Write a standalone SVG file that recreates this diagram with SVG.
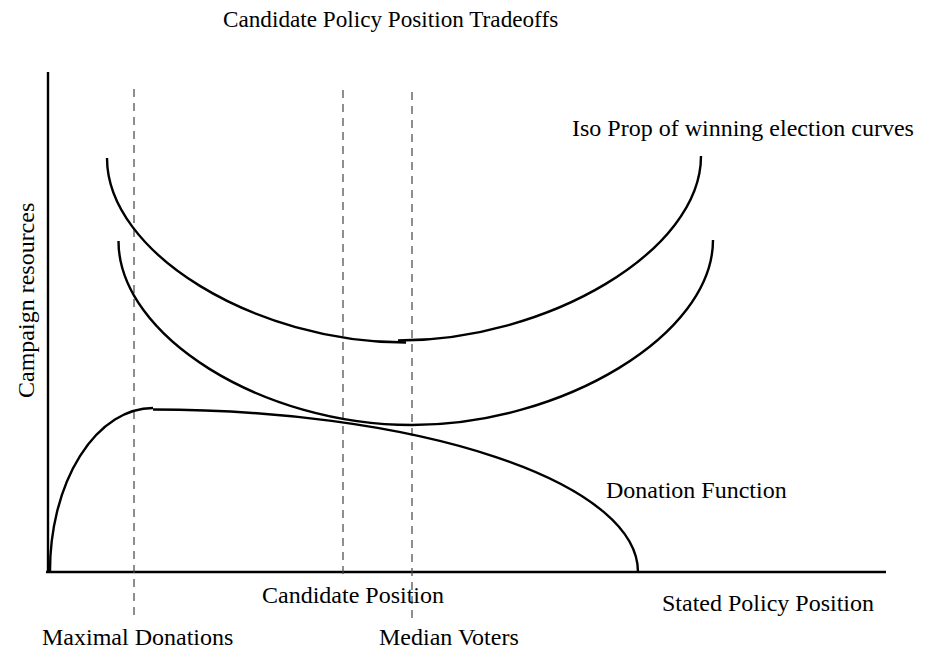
<svg xmlns="http://www.w3.org/2000/svg" width="926" height="651" viewBox="0 0 926 651">
<style>
text{font-family:"Liberation Serif","Times New Roman",serif;font-size:24px;fill:#000}
.axis{stroke:#000;stroke-width:2.4;fill:none}
.curve{stroke:#000;stroke-width:2.4;fill:none}
.dash{stroke:#444;stroke-width:1.2;stroke-dasharray:8 6;fill:none}
</style>
<rect width="926" height="651" fill="#fff"/>
<text id="title" x="223" y="27" style="font-size:23.2px">Candidate Policy Position Tradeoffs</text>
<g id="axes">
<line class="axis" x1="48" y1="72" x2="48" y2="573"/>
<line class="axis" x1="46" y1="572" x2="886" y2="572"/>
<text id="ylabel" transform="translate(33.5,398) rotate(-90)">Campaign resources</text>
<text id="xlabel" x="662" y="611">Stated Policy Position</text>
</g>
<g id="guides">
<line class="dash" x1="134" y1="89" x2="134" y2="618"/>
<line class="dash" x1="343" y1="90" x2="343" y2="575"/>
<line class="dash" x1="412" y1="92" x2="412" y2="621"/>
</g>
<g id="iso-upper">
<path class="curve" d="M107,158 C107,253 255,342.5 406,342.5"/>
<path class="curve" d="M398,340.5 C548,340.5 701,251 701,156"/>
</g>
<g id="iso-lower">
<path class="curve" d="M118.5,241 C118.5,336 262,425 412,425 C562,425 713,335 713,240"/>
</g>
<g id="donation">
<path class="curve" d="M50,572 A103,163 0 0 1 153,408"/>
<path class="curve" d="M153,409.5 A485,162.5 0 0 1 638,572"/>
</g>
<text id="iso-label" x="572" y="136">Iso Prop of winning election curves</text>
<text id="donation-label" x="606" y="498">Donation Function</text>
<text id="candidate-label" x="262" y="603">Candidate Position</text>
<text id="maximal-label" x="42" y="645">Maximal Donations</text>
<text id="median-label" x="379" y="645">Median Voters</text>
</svg>
